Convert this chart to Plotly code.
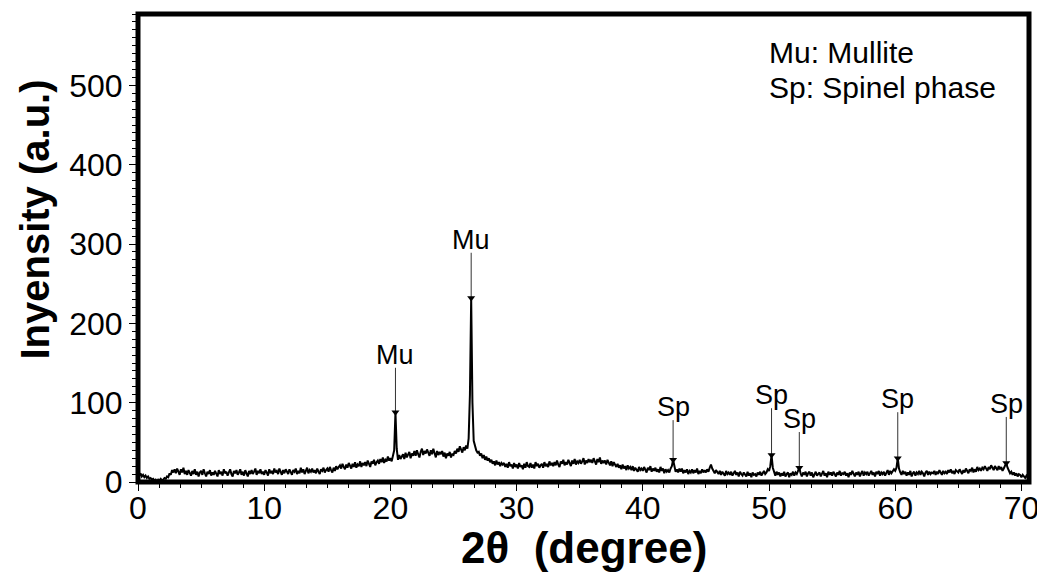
import plotly.graph_objects as go

# ---- data ----
two_theta_start = 0.0
two_theta_step = 0.1
intensity = [
    10, 8, 11, 7, 9, 6, 8, 5, 7, 4,
    5, 3, 4, 2, 3, 1, 3, 2, 4, 2,
    3, 5, 4, 7, 6, 11, 9, 15, 12, 16,
    11, 17, 13, 9, 16, 12, 18, 10, 14, 9,
    15, 11, 8, 14, 10, 16, 9, 13, 7, 12,
    14, 9, 16, 11, 7, 13, 10, 15, 8, 12,
    9, 14, 11, 7, 15, 10, 13, 8, 16, 11,
    13, 8, 12, 16, 10, 7, 14, 11, 15, 9,
    12, 16, 9, 13, 8, 15, 11, 7, 14, 10,
    15, 10, 13, 17, 9, 14, 11, 16, 10, 13,
    9, 15, 12, 8, 16, 11, 14, 10, 17, 12,
    14, 10, 17, 12, 9, 15, 11, 16, 13, 10,
    16, 12, 9, 15, 13, 17, 10, 14, 11, 18,
    12, 16, 10, 14, 18, 11, 15, 13, 17, 12,
    15, 11, 17, 13, 10, 16, 14, 18, 12, 15,
    17, 13, 19, 15, 12, 18, 14, 20, 16, 19,
    21, 17, 23, 19, 16, 22, 18, 24, 20, 17,
    23, 19, 25, 18, 22, 20, 26, 19, 24, 21,
    25, 20, 27, 22, 19, 26, 23, 28, 21, 25,
    27, 23, 29, 25, 31, 24, 28, 26, 32, 27,
    30, 26, 33, 40, 88, 42, 28, 34, 29, 32,
    35, 29, 37, 31, 34, 38, 30, 36, 33, 39,
    33, 40, 35, 31, 38, 42, 34, 39, 36, 41,
    37, 33, 40, 35, 42, 36, 31, 39, 34, 38,
    35, 39, 32, 37, 30, 36, 33, 38, 31, 35,
    34, 39, 36, 42, 38, 45, 41, 37, 44, 40,
    46, 42, 55, 110, 232, 100, 52, 44, 40, 37,
    38, 33, 36, 30, 34, 28, 32, 27, 30, 25,
    28, 23, 26, 21, 27, 22, 25, 20, 24, 22,
    24, 19, 23, 18, 25, 20, 22, 17, 24, 19,
    22, 17, 24, 19, 21, 16, 23, 18, 25, 20,
    19, 24, 18, 22, 17, 25, 20, 23, 18, 21,
    23, 18, 25, 20, 22, 19, 26, 21, 24, 20,
    25, 21, 27, 22, 19, 26, 23, 28, 21, 25,
    22, 28, 24, 20, 27, 23, 29, 22, 26, 24,
    28, 23, 26, 30, 22, 27, 24, 29, 25, 28,
    24, 30, 26, 22, 29, 25, 31, 23, 27, 24,
    27, 22, 28, 24, 21, 26, 20, 25, 22, 19,
    23, 18, 21, 16, 22, 17, 20, 15, 21, 17,
    19, 15, 20, 14, 18, 16, 13, 19, 15, 17,
    14, 19, 16, 12, 18, 15, 20, 13, 17, 14,
    18, 13, 16, 12, 19, 14, 17, 11, 16, 13,
    15, 12, 17, 20, 28, 18, 13, 16, 12, 17,
    13, 17, 11, 15, 12, 16, 10, 14, 12, 16,
    11, 15, 12, 17, 10, 14, 11, 16, 12, 15,
    12, 16, 13, 18, 22, 17, 14, 11, 15, 12,
    10, 14, 9, 13, 11, 8, 14, 10, 12, 9,
    13, 8, 11, 14, 9, 12, 7, 13, 10, 8,
    12, 9, 7, 13, 8, 11, 6, 12, 9, 10,
    7, 12, 9, 13, 8, 11, 14, 10, 12, 16,
    14, 20, 34, 18, 11, 8, 13, 9, 12, 7,
    11, 8, 13, 7, 10, 12, 6, 11, 9, 13,
    8, 12, 10, 14, 18, 11, 7, 12, 9, 13,
    7, 11, 13, 8, 12, 6, 10, 13, 8, 11,
    12, 7, 10, 14, 8, 11, 6, 13, 9, 12,
    8, 13, 10, 7, 12, 9, 14, 8, 11, 10,
    13, 8, 11, 6, 12, 9, 14, 10, 7, 12,
    9, 13, 7, 11, 14, 8, 12, 10, 13, 8,
    11, 14, 9, 12, 7, 13, 10, 14, 8, 12,
    10, 13, 8, 12, 15, 9, 14, 11, 13, 16,
    14, 18, 30, 17, 12, 9, 14, 10, 13, 8,
    12, 9, 14, 7, 11, 13, 8, 12, 10, 14,
    9, 13, 11, 7, 12, 14, 9, 13, 10, 12,
    11, 14, 9, 13, 10, 15, 12, 9, 14, 11,
    13, 10, 15, 12, 16, 11, 14, 10, 15, 13,
    12, 16, 13, 10, 15, 12, 17, 14, 11, 16,
    14, 18, 12, 16, 13, 19, 15, 17, 14, 18,
    16, 20, 17, 14, 19, 16, 21, 18, 15, 20,
    18, 15, 20, 16, 19, 14, 17, 21, 24, 18,
    14, 11, 13, 9, 12, 8, 11, 7, 10, 9,
    6, 9, 7, 5, 8, 6, 4,
]
two_theta = [round(two_theta_start + i * two_theta_step, 2) for i in range(len(intensity))]

peak_pos = [20.4, 26.4, 42.4, 50.2, 52.4, 60.2, 68.8]
peak_labels = ["Mu", "Mu", "Sp", "Sp", "Sp", "Sp", "Sp"]
peak_height = [88, 232, 28, 34, 18, 30, 24]
label_height = [144, 289, 78, 93, 63, 88, 82]

x_ticks = [0, 10, 20, 30, 40, 50, 60, 70]
y_ticks = [0, 100, 200, 300, 400, 500]
legend_lines = ["Mu: Mullite", "Sp: Spinel phase"]

FONT = "Liberation Sans, Arial, sans-serif"

# ---- figure ----
fig = go.Figure()
fig.add_trace(go.Scatter(x=two_theta, y=intensity, mode="lines",
                         line=dict(color="black", width=2), showlegend=False))

stick_x, stick_y = [], []
for p, h, t in zip(peak_pos, peak_height, label_height):
    stick_x += [p, p, None]
    stick_y += [h, t, None]
fig.add_trace(go.Scatter(x=stick_x, y=stick_y, mode="lines",
                         line=dict(color="#333333", width=1), showlegend=False))
fig.add_trace(go.Scatter(x=peak_pos, y=peak_height, mode="markers",
                         marker=dict(symbol="triangle-down", size=7, color="black"),
                         showlegend=False))

for p, t, lab in zip(peak_pos, label_height, peak_labels):
    fig.add_annotation(x=p, y=t, text=lab, showarrow=False, xanchor="center",
                       yanchor="bottom", yshift=-4,
                       font=dict(family=FONT, size=27, color="black"))

for i, line in enumerate(legend_lines):
    fig.add_annotation(xref="paper", yref="paper", x=0.706, y=[0.918, 0.842][i],
                       text=line, showarrow=False, xanchor="left", yanchor="middle",
                       font=dict(family=FONT, size=30, color="black"))

fig.add_annotation(xref="paper", yref="paper", x=-0.116, y=0.56, text="<b>Inyensity (a.u.)</b>",
                   textangle=-90, showarrow=False, xanchor="center", yanchor="middle",
                   font=dict(family=FONT, size=40, color="black"))
fig.add_annotation(xref="paper", yref="paper", x=0.5, y=-0.141, text="<b>2θ  (degree)</b>",
                   showarrow=False, xanchor="center", yanchor="middle",
                   font=dict(family=FONT, size=44, color="black"))

# thick frame around the plot area
fig.add_shape(type="rect", xref="paper", yref="paper", x0=0, x1=1, y0=0, y1=1,
              line=dict(color="black", width=5), layer="above")

fig.update_xaxes(range=[0, 70.6], tickvals=x_ticks, ticks="outside", ticklen=8,
                 tickcolor="black", tickwidth=1, ticklabelstandoff=-10,
                 minor=dict(dtick=10 / 6, tick0=0, ticks="outside", ticklen=5, tickcolor="black"),
                 showline=False, showgrid=False, zeroline=False,
                 tickfont=dict(family=FONT, size=32, color="black"))
fig.update_yaxes(range=[0, 590], tickvals=y_ticks, ticks="outside", ticklen=8,
                 tickcolor="black", tickwidth=1,
                 minor=dict(dtick=10, tick0=0, ticks="outside", ticklen=5, tickcolor="black"),
                 showline=False, showgrid=False, zeroline=False,
                 tickfont=dict(family=FONT, size=32, color="black"))

# the page body has an 8px margin, so the figure is sized to fill the remaining window
fig.update_layout(width=1037, height=571, margin=dict(l=130, r=13, t=6, b=97),
                  plot_bgcolor="white", paper_bgcolor="white", showlegend=False)

fig.write_html("out.html")
